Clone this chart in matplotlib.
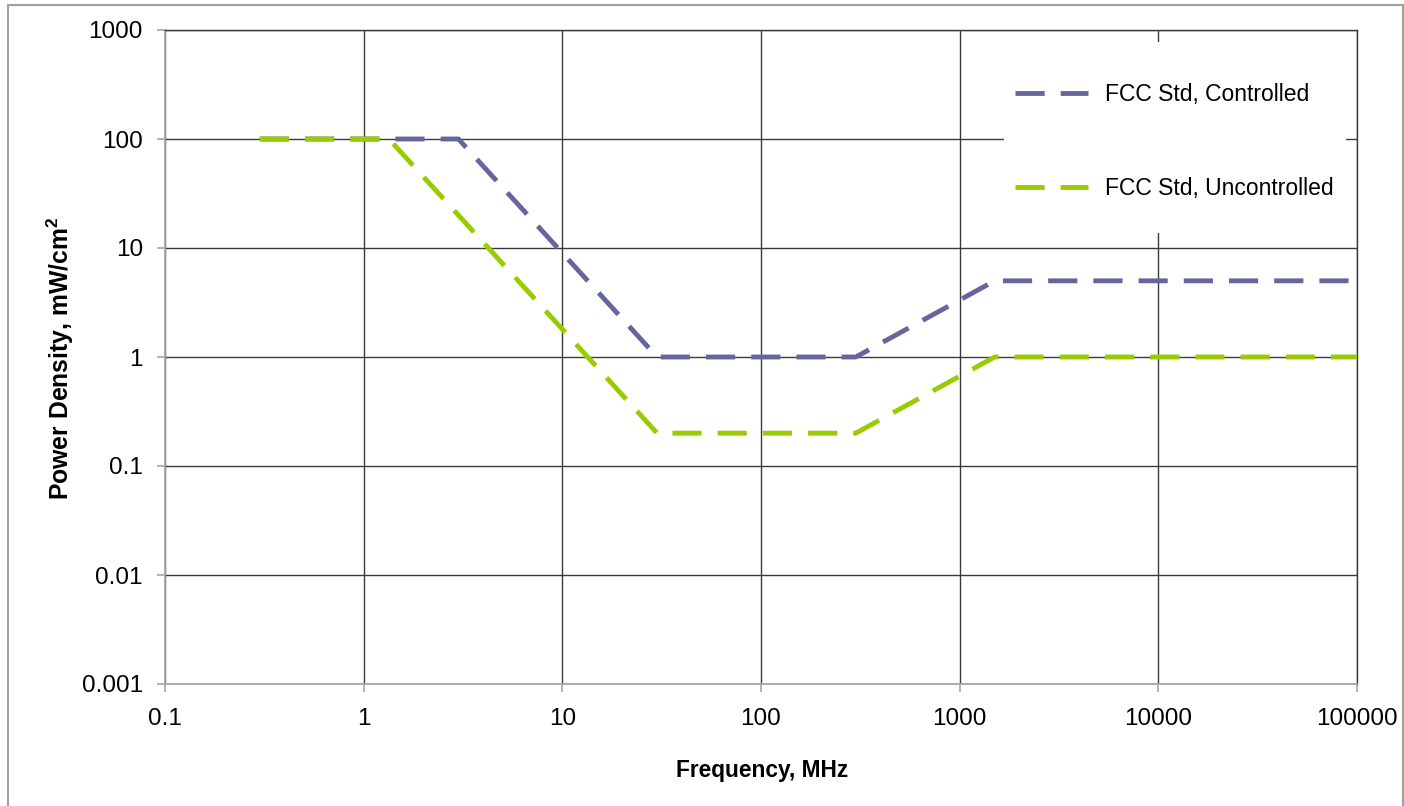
import matplotlib
matplotlib.use("Agg")
import matplotlib.pyplot as plt
from matplotlib.patches import Rectangle
from matplotlib.ticker import FixedLocator, FixedFormatter, NullLocator

# ---- data ----
freq_controlled = [0.3, 1, 3, 10, 30, 100, 300, 1000, 1500, 10000, 100000]
pd_controlled = [100, 100, 100, 9, 1, 1, 1, 3.33, 5, 5, 5]
freq_uncontrolled = [0.3, 1, 1.34, 3, 10, 30, 100, 300, 1000, 1500, 10000, 100000]
pd_uncontrolled = [100, 100, 100, 20, 1.8, 0.2, 0.2, 0.2, 0.667, 1, 1, 1]
series_labels = ["FCC Std, Controlled", "FCC Std, Uncontrolled"]
x_ticks = [0.1, 1, 10, 100, 1000, 10000, 100000]
x_ticklabels = ["0.1", "1", "10", "100", "1000", "10000", "100000"]
y_ticks = [0.001, 0.01, 0.1, 1, 10, 100, 1000]
y_ticklabels = ["0.001", "0.01", "0.1", "1", "10", "100", "1000"]
x_label = "Frequency, MHz"
y_label = "Power Density, mW/cm$^\\mathbf{2}$"

# ---- style ----
W, H = 1404, 806
plt.rcParams['font.family'] = ['Liberation Sans', 'DejaVu Sans']
plt.rcParams['mathtext.fontset'] = 'custom'
plt.rcParams['mathtext.rm'] = 'Liberation Sans'
plt.rcParams['mathtext.bf'] = 'Liberation Sans:bold'

c_ctrl = "#66669E"
c_unc = "#99CC00"
grid_c = "#3A3A3A"
axis_c = "#A6A6A6"

fig = plt.figure(figsize=(W / 100, H / 100), dpi=100)
fig.patch.set_facecolor("white")

def fx(px):
    return px / W

def fy(py):
    return 1 - py / H

ax = fig.add_axes([fx(165), fy(684), fx(1357) - fx(165), fy(30) - fy(684)])
ax.set_xscale("log")
ax.set_yscale("log")
ax.set_xlim(0.1, 100000)
ax.set_ylim(0.001, 1000)

lw = 3.5
dash = (6.0, 3.3)
ax.plot(freq_controlled, pd_controlled, color=c_ctrl, lw=lw, dashes=dash,
        label=series_labels[0], zorder=3, solid_capstyle='butt', dash_capstyle='butt')
ax.plot(freq_uncontrolled, pd_uncontrolled, color=c_unc, lw=lw, dashes=dash,
        label=series_labels[1], zorder=4, solid_capstyle='butt', dash_capstyle='butt')

ax.xaxis.set_major_locator(FixedLocator(x_ticks))
ax.xaxis.set_major_formatter(FixedFormatter(x_ticklabels))
ax.yaxis.set_major_locator(FixedLocator(y_ticks))
ax.yaxis.set_major_formatter(FixedFormatter(y_ticklabels))
ax.xaxis.set_minor_locator(NullLocator())
ax.yaxis.set_minor_locator(NullLocator())

ax.grid(True, which="major", color=grid_c, lw=1.0, zorder=1)
ax.set_axisbelow(True)
for s in ["left", "bottom"]:
    ax.spines[s].set_color(axis_c)
    ax.spines[s].set_linewidth(1.3)
for s in ["top", "right"]:
    ax.spines[s].set_color(grid_c)
    ax.spines[s].set_linewidth(1.0)

ax.tick_params(axis="both", which="major", length=6, width=1.2, color=axis_c,
               labelsize=17.5, labelcolor="black")
ax.tick_params(axis="x", pad=11)
ax.tick_params(axis="y", pad=10)

fig.text(fx(762), fy(770), x_label, ha="center", va="center",
         fontsize=16.4, fontweight="bold")
fig.text(fx(60), fy(358), y_label, ha="center", va="center",
         rotation=90, fontsize=17.8, fontweight="bold")

# legend background (white box covering gridlines)
fig.patches.append(Rectangle((fx(1004), fy(233)), fx(1346) - fx(1004), fy(42) - fy(233),
                             transform=fig.transFigure, facecolor="white",
                             edgecolor="none", zorder=2))
handles, labels = ax.get_legend_handles_labels()
leg = fig.legend(handles, labels, loc="upper left",
                 bbox_to_anchor=(fx(1015), fy(83)), frameon=False,
                 borderpad=0, borderaxespad=0, fontsize=16.5,
                 handlelength=3.2, handletextpad=0.74, labelspacing=3.1)
leg.set_zorder(3)

# outer chart border (bottom edge lies outside the image)
fig.patches.append(Rectangle((fx(8), fy(812)), fx(1403) - fx(8), fy(5) - fy(812),
                             transform=fig.transFigure, facecolor="none",
                             edgecolor="#A0A0A0", lw=1.5, zorder=5, clip_on=False))

fig.savefig("out.png", dpi=100)
